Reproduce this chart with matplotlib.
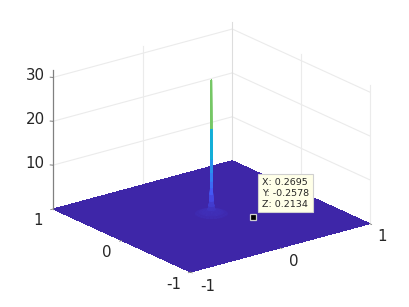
import numpy as np
import matplotlib
matplotlib.use('Agg')
import matplotlib.pyplot as plt
from matplotlib.colors import LinearSegmentedColormap
from mpl_toolkits.mplot3d import proj3d

# parula samples
parula_colors = [(0.2422, 0.1504, 0.6603), (0.2810, 0.3228, 0.9579), (0.1786, 0.5289, 0.9682),
                 (0.0689, 0.6948, 0.8394), (0.2161, 0.7843, 0.5923), (0.6720, 0.7793, 0.2227),
                 (0.9970, 0.7659, 0.2199), (0.9769, 0.9839, 0.0805)]

x_ticks = [-1, 0, 1]
y_ticks = [-1, 0, 1]
z_ticks = [10, 20, 30]
z_top = 31.6

# spike profile (distance from the centre, height)
radius = [0, 0.0045, 0.006, 0.007, 0.008, 0.009, 0.011, 0.014, 0.018, 0.025, 0.035, 0.050, 0.065, 0.085, 0.110, 0.145, 0.155]
height = [31.2, 31, 20, 13, 10, 8, 6.5, 5, 3.5, 2.4, 1.5, 1.0, 1.0, 1.0, 0.9, 0.6, 0.1]
# value that sets the colour of each ring of the spike
ring_value = [20, 20, 13, 10, 8, 6.5, 5, 3.5, 2.4, 1.5, 1.0, 1.0, 1.0, 0.9, 0.6, 0.1]

cursor_x = 0.2695
cursor_y = -0.2578
cursor_z = 0.2134

cmap = LinearSegmentedColormap.from_list('parula', parula_colors)
grid_color = '#ebebeb'
axis_color = '#808080'
text_color = '#262626'

fig = plt.figure(figsize=(4.09, 3.07), dpi=100)
# the 3d axes box is forced square, so it has to be larger than the figure
size = 512
ax = fig.add_axes([(204.5 - size / 2) / 409, (307 - 154 - size / 2) / 307, size / 409, size / 307],
                  projection='3d', proj_type='ortho', computed_zorder=False)
ax.view_init(elev=20.6, azim=-127.5)
ax.set_xlim(-1, 1)
ax.set_ylim(-1, 1)
ax.set_zlim(0, z_top)
ax.set_box_aspect((1, 1, 0.655), zoom=0.668)
ax.set_axis_off()

# back walls
for z in z_ticks:
    ax.plot([-1, 1], [1, 1], [z, z], color=grid_color, lw=0.8, zorder=1)
    ax.plot([1, 1], [1, -1], [z, z], color=grid_color, lw=0.8, zorder=1)
ax.plot([0, 0], [1, 1], [0, z_top], color=grid_color, lw=0.8, zorder=1)
ax.plot([1, 1], [0, 0], [0, z_top], color=grid_color, lw=0.8, zorder=1)
ax.plot([1, 1], [1, 1], [0, z_top], color='#dddddd', lw=0.8, zorder=1)
ax.plot([1, 1], [-1, -1], [0, z_top], color=grid_color, lw=0.8, zorder=1)

# floor
fx, fy = np.meshgrid([-1, 1], [-1, 1])
ax.plot_surface(fx, fy, np.zeros_like(fx, dtype=float), color=parula_colors[0], shade=False,
                linewidth=0, antialiased=False, zorder=2)

# spike
r, t = np.meshgrid(radius, np.linspace(0, 2 * np.pi, 25))
zz = np.tile(height, (25, 1))
ring_colors = cmap(np.tile(ring_value, (25, 1)) / 31)
spike = ax.plot_surface(r * np.cos(t), r * np.sin(t), zz, facecolors=ring_colors, shade=False,
                        rstride=1, cstride=1, linewidth=0.2, antialiased=True, zorder=3)
spike.set_edgecolor(spike._facecolor3d)

# z axis and ticks
ax.plot([-1, -1], [1, 1], [0, z_top], color=axis_color, lw=0.9, zorder=4)
for z in z_ticks:
    ax.plot([-1, -1.015], [1, 1.02], [z, z], color=axis_color, lw=0.7, zorder=4)
for v in x_ticks:
    ax.plot([v, v], [-1, -1.025], [0, 0], color=axis_color, lw=0.6, zorder=4)
for v in y_ticks:
    ax.plot([-1, -1.025], [v, v], [0, 0], color=axis_color, lw=0.6, zorder=4)

# data cursor
ax.plot([cursor_x], [cursor_y], [cursor_z], marker='s', ms=4.6, mfc='black', mec='#d0d0d0', mew=0.9,
        ls='none', zorder=6)


def tick_label(x, y, z, s, dx, dy):
    # text is placed at an offset in pixels from the projected tick
    px, py, _ = proj3d.proj_transform(x, y, z, ax.get_proj())
    ax.annotate(s, (px, py), xytext=(dx, dy), textcoords='offset pixels', ha='center', va='center',
                fontsize=10.8, color=text_color, annotation_clip=False)


for z in z_ticks:
    tick_label(-1, 1, z, str(z), -18, 2)
for v, dx, dy in zip(y_ticks, [-17, -14.5, -15], [-12, -11.5, -11]):
    tick_label(-1, v, 0, str(v), dx, dy)
for v, dx, dy in zip(x_ticks, [17, 13.5, 12], [-14, -14, -13]):
    tick_label(v, -1, 0, str(v), dx, dy)

fig.text(262 / 409, 1 - 193.3 / 307, 'X: %.4f\nY: %.4f\nZ: %.4f' % (cursor_x, cursor_y, cursor_z),
         fontsize=6.8, color=text_color, ha='left', va='center', linespacing=1.25, zorder=10,
         bbox=dict(boxstyle='square,pad=0.38', fc='#ffffe8', ec='#d0d0d0', lw=0.8))

fig.savefig('out.png', dpi=100, facecolor='white')
